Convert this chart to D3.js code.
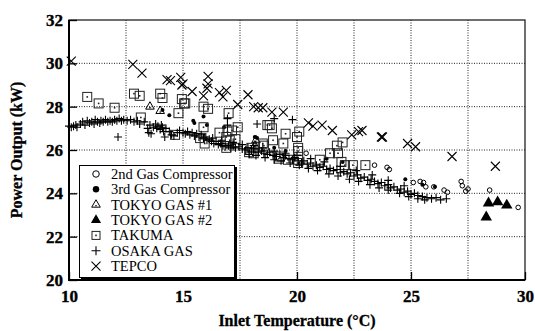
<!DOCTYPE html>
<html>
<head>
<meta charset="utf-8">
<script src="https://cdn.jsdelivr.net/npm/d3@7"></script>
<style>
  body { margin: 0; background: #fff; }
  svg { display: block; font-family: "Liberation Serif", "Times New Roman", serif; }
</style>
</head>
<body>
<svg id="canvas" width="535" height="331"></svg>
<script>
// data: [inlet temperature (°C), power output (kW)]
const gas2nd = [[20.4,25.85],[23.4,25.3],[23.95,25.2],[24.05,25.1],[25.1,24.5],[25.4,24.55],[25.55,24.5],[25.65,24.3],
  [26.0,24.3],[26.45,24.15],[26.6,24.05],[27.2,24.55],[27.25,24.35],[27.4,24.1],[27.5,24.2],[28.45,24.15],[29.7,23.35]];
const gas3rd = [[14.1,27.85],[15.45,27.35],[15.5,27.25],[15.9,27.55],[16.05,27.15],[16.8,27.05],[18.15,26.6],[18.25,26.55],
  [19.5,25.95],[21.3,25.6],[22.0,25.45],[24.75,24.65],[25.5,24.4],[26.05,24.3],[17.2,26.3],[19.0,26.1],[14.4,27.6]];
const tokyo1 = [[13.55,28.0],[14.0,27.8],[18.2,26.45],[18.15,26.2]];
const tokyo2 = [[28.4,23.55],[28.8,23.6],[29.2,23.45],[28.3,22.9]];
const takuma = [[10.8,28.45],[11.3,28.15],[12.0,27.95],[12.85,28.6],[13.1,28.5],[13.15,27.5],[14.0,28.6],[14.1,28.4],
  [14.8,27.7],[14.95,28.35],[15.05,28.15],[14.65,26.7],[15.9,28.0],[16.1,27.9],[17.0,27.7],[17.4,27.05],[15.9,27.05],
  [15.95,26.3],[16.6,26.8],[16.9,26.6],[16.9,26.1],[17.05,26.45],[17.9,25.9],[18.1,25.85],[18.5,26.3],[18.7,27.15],
  [15.75,26.55],[16.95,26.85],[17.3,26.5],[18.0,26.1],[18.9,27.0],[18.95,26.45],[19.5,26.75],[19.4,26.3],[20.1,26.85],
  [20.0,26.6],[20.05,26.1],[19.25,25.7],[19.6,25.55],[20.05,25.55],[19.2,25.6],[20.05,25.95],[20.05,25.4],[21.0,25.55],
  [21.45,25.85],[21.8,25.85],[21.75,26.2],[22.0,26.35],[21.95,25.45],[22.1,25.3],[22.45,25.3],[23.0,25.3],[18.55,26.2],
  [17.15,26.9],[15.1,28.15],[18.8,27.15]];
const osaka = [[10.0,27.1],[10.1,27.05],[10.2,27.1],[10.3,27.15],[10.35,27.05],[10.5,27.2],[10.6,27.3],[10.7,27.15],
  [10.8,27.35],[10.9,27.25],[11.0,27.3],[11.1,27.2],[11.15,27.4],[11.25,27.3],[11.35,27.25],[11.4,27.35],[11.5,27.3],
  [11.6,27.4],[11.7,27.3],[11.8,27.35],[11.9,27.3],[12.0,27.4],[12.1,27.35],[12.15,26.6],[12.2,27.45],[12.3,27.35],
  [12.4,27.4],[12.55,27.35],[12.7,27.4],[12.85,27.3],[13.0,27.35],[13.1,27.2],[13.3,27.3],[13.45,27.0],[13.5,26.8],
  [13.55,27.15],[13.6,26.75],[13.7,27.05],[13.8,27.2],[13.85,27.0],[13.9,27.1],[14.0,26.95],[14.05,27.15],[14.1,27.05],
  [14.15,26.85],[14.2,26.6],[14.25,27.0],[14.4,26.85],[14.5,26.7],[14.6,26.65],[14.75,26.8],[14.85,26.9],[15.0,26.8],
  [15.1,26.75],[15.2,26.85],[15.3,26.7],[15.4,26.8],[15.5,26.65],[15.6,26.75],[15.7,26.6],[15.8,26.7],[15.9,26.55],
  [16.0,26.6],[16.05,26.45],[16.15,26.5],[16.25,26.4],[16.35,26.3],[16.45,26.4],[16.55,26.25],[16.65,26.3],[16.75,26.2],
  [16.85,26.15],[16.95,27.15],[16.95,27.45],[17.0,26.2],[17.1,26.1],[17.2,26.15],[17.3,26.1],[17.45,26.15],[17.6,26.05],
  [17.75,26.0],[17.85,26.1],[18.0,25.95],[18.1,26.05],[18.25,27.2],[18.3,25.9],[18.45,25.95],[18.55,25.85],[18.7,25.8],
  [18.8,25.9],[18.95,25.75],[19.0,27.45],[19.1,25.7],[19.25,25.8],[19.4,25.65],[19.5,25.75],[19.65,25.6],[19.8,27.4],
  [19.8,25.55],[19.9,25.65],[20.05,25.5],[20.2,25.4],[20.3,25.5],[20.45,25.35],[20.6,25.4],[20.7,25.25],[20.85,25.3],
  [21.0,25.2],[21.15,25.25],[21.3,25.1],[21.45,25.15],[21.6,25.05],[21.75,25.1],[21.9,24.95],[22.05,25.0],[22.2,24.9],
  [22.35,24.95],[22.5,24.8],[22.65,24.85],[22.8,24.7],[22.95,24.75],[23.1,24.6],[23.25,24.65],[23.4,24.55],[23.55,24.45],
  [23.7,24.5],[23.85,24.35],[24.0,24.4],[24.1,24.25],[24.25,24.3],[24.4,24.15],[24.55,24.2],[24.7,24.05],[24.85,24.1],
  [25.0,23.95],[25.15,24.0],[25.3,23.9],[25.5,23.85],[25.7,23.8],[25.9,23.75],[26.1,23.8],[26.3,23.7],[26.55,23.75],
  [17.9,25.8],[18.2,25.75],[18.6,25.65],[19.0,25.55],[19.3,25.5],[19.7,25.4],[20.1,25.3],[20.5,25.15],[20.9,25.05],
  [21.4,24.9],[21.8,24.8],[22.3,24.65],[22.7,24.55],[23.2,24.4],[23.6,24.25],[24.0,24.15],[24.5,24.0],[24.9,23.85],
  [25.3,23.75],[25.6,23.7],[16.3,26.55],[16.7,26.45],[17.2,26.35],[17.6,26.25],[18.1,26.2],[18.5,26.1],[19.0,25.95],
  [19.5,25.85],[20.0,25.75],[20.6,25.6],[21.2,25.45],[21.9,25.25],[22.6,25.05],[23.3,24.85],[24.0,24.6],[24.7,24.35]];
const tepco = [[10.1,30.1],[12.8,29.95],[13.2,29.55],[14.3,29.25],[14.45,29.2],[14.9,29.35],[14.95,29.0],[15.0,29.05],
  [15.4,28.7],[15.9,28.5],[16.1,29.4],[16.1,29.05],[16.05,28.85],[16.6,28.65],[16.9,28.75],[16.75,28.45],[17.4,28.1],
  [17.85,28.55],[18.1,28.0],[18.3,27.95],[18.5,27.95],[18.9,27.75],[19.4,27.75],[20.5,27.25],[20.7,27.1],[21.1,27.15],
  [21.55,26.9],[22.4,26.7],[22.7,26.85],[22.85,26.9],[23.7,26.6],[23.75,26.6],[24.85,26.3],[25.2,26.15],[26.8,25.7],[28.7,25.25]];

const seriesNames = ['2nd Gas Compressor', '3rd Gas Compressor', 'TOKYO GAS #1', 'TOKYO GAS #2', 'TAKUMA', 'OSAKA GAS', 'TEPCO'];
const seriesData = [gas2nd, gas3rd, tokyo1, tokyo2, takuma, osaka, tepco];
const xTicks = [10, 15, 20, 25, 30];
const yTicks = [20, 22, 24, 26, 28, 30, 32];
const xGrid = [12.5, 15, 17.5, 20, 22.5, 25, 27.5];
const yGrid = [22, 24, 26, 28, 30];

const svg = d3.select('#canvas');
const x = d3.scaleLinear().domain([10, 30]).range([69, 525]);
const y = d3.scaleLinear().domain([20, 32]).range([280, 20]);

// dotted grid
svg.selectAll('.gx').data(xGrid).enter().append('line')
  .attr('x1', d => x(d)).attr('x2', d => x(d)).attr('y1', y(32)).attr('y2', y(20))
  .attr('stroke', '#222').attr('stroke-width', 1).attr('stroke-dasharray', '1,1.5');
svg.selectAll('.gy').data(yGrid).enter().append('line')
  .attr('x1', x(10)).attr('x2', x(30)).attr('y1', d => y(d)).attr('y2', d => y(d))
  .attr('stroke', '#222').attr('stroke-width', 1).attr('stroke-dasharray', '1,1.5');

// marker drawing, s = marker size in px
function drawMarker(g, type, s) {
  const h = s / 2;
  if (type === 0) {
    g.append('circle').attr('r', h).attr('fill', 'none').attr('stroke', '#000').attr('stroke-width', 1);
  } else if (type === 1) {
    g.append('circle').attr('r', h).attr('fill', '#000');
  } else if (type === 2) {
    g.append('path').attr('d', d3.symbol(d3.symbolTriangle, s * s * 0.5)()).attr('fill', 'none').attr('stroke', '#000').attr('stroke-width', 1);
    g.append('circle').attr('r', 0.8).attr('cy', 1).attr('fill', '#000');
  } else if (type === 3) {
    g.append('path').attr('d', d3.symbol(d3.symbolTriangle, s * s * 0.7)()).attr('fill', '#000');
  } else if (type === 4) {
    g.append('rect').attr('x', -h).attr('y', -h).attr('width', s).attr('height', s)
      .attr('fill', 'none').attr('stroke', '#222').attr('stroke-width', 1);
    g.append('rect').attr('x', -0.8).attr('y', -0.8).attr('width', 1.6).attr('height', 1.6).attr('fill', '#222');
  } else if (type === 5) {
    g.append('path').attr('d', `M${-h},0H${h}M0,${-h}V${h}`).attr('stroke', '#000').attr('stroke-width', 1.1);
  } else {
    g.append('path').attr('d', `M${-h},${-h}L${h},${h}M${-h},${h}L${h},${-h}`).attr('stroke', '#000').attr('stroke-width', 1.1);
  }
}

const markSize = [4.6, 4, 8, 9, 9, 8, 9];
seriesData.forEach((data, i) => {
  svg.append('g').selectAll('g').data(data).enter().append('g')
    .attr('transform', d => `translate(${x(d[0])},${y(d[1])})`)
    .each(function () { drawMarker(d3.select(this), i, markSize[i]); });
});

// frame
svg.append('rect').attr('x', x(10)).attr('y', y(32)).attr('width', x(30) - x(10)).attr('height', y(20) - y(32))
  .attr('fill', 'none').attr('stroke', '#222').attr('stroke-width', 1.3);
svg.append('path').attr('d', `M${x(10)},${y(32)}V${y(20)}H${x(30)}`)
  .attr('fill', 'none').attr('stroke', '#000').attr('stroke-width', 2);

// axes with inward ticks
const xAxis = svg.append('g').attr('transform', `translate(0,${y(20)})`)
  .call(d3.axisBottom(x).tickValues(xTicks).tickSizeInner(-8).tickSizeOuter(0).tickPadding(10));
const yAxis = svg.append('g').attr('transform', `translate(${x(10)},0)`)
  .call(d3.axisLeft(y).tickValues(yTicks).tickSizeInner(-8).tickSizeOuter(0).tickPadding(6));
[xAxis, yAxis].forEach(a => {
  a.attr('font-family', null).attr('font-size', null);
  a.select('.domain').remove();
  a.selectAll('.tick line').attr('stroke', '#000').attr('stroke-width', 1.3);
  a.selectAll('text').style('font-family', '"Liberation Serif", serif').style('font-size', '17px')
    .style('font-weight', 'bold').attr('fill', '#000').attr('stroke', '#000').attr('stroke-width', 0.35);
});

// axis titles
svg.append('text').attr('x', 297).attr('y', 326).attr('text-anchor', 'middle')
  .attr('font-size', 16).attr('font-weight', 'bold').attr('stroke', '#000').attr('stroke-width', 0.3)
  .text('Inlet Temperature (°C)');
svg.append('text').attr('transform', 'translate(22,150) rotate(-90)').attr('text-anchor', 'middle')
  .attr('font-size', 16).attr('font-weight', 'bold').attr('stroke', '#000').attr('stroke-width', 0.3)
  .text('Power Output (kW)');

// legend
const lg = svg.append('g');
lg.append('rect').attr('x', 81).attr('y', 167).attr('width', 156).attr('height', 113).attr('fill', '#000');
lg.append('rect').attr('x', 79.5).attr('y', 165.5).attr('width', 155).attr('height', 112)
  .attr('fill', '#fff').attr('stroke', '#000').attr('stroke-width', 1);
const legendSize = [6.5, 6.5, 8, 8, 8, 9, 9];
seriesNames.forEach((name, i) => {
  const row = lg.append('g').attr('transform', `translate(96,${174 + i * 15.35})`);
  drawMarker(row, i, legendSize[i]);
  row.append('text').attr('x', 15).attr('y', 5).attr('font-size', 14.5).attr('fill', '#000').text(name);
});
</script>
</body>
</html>
